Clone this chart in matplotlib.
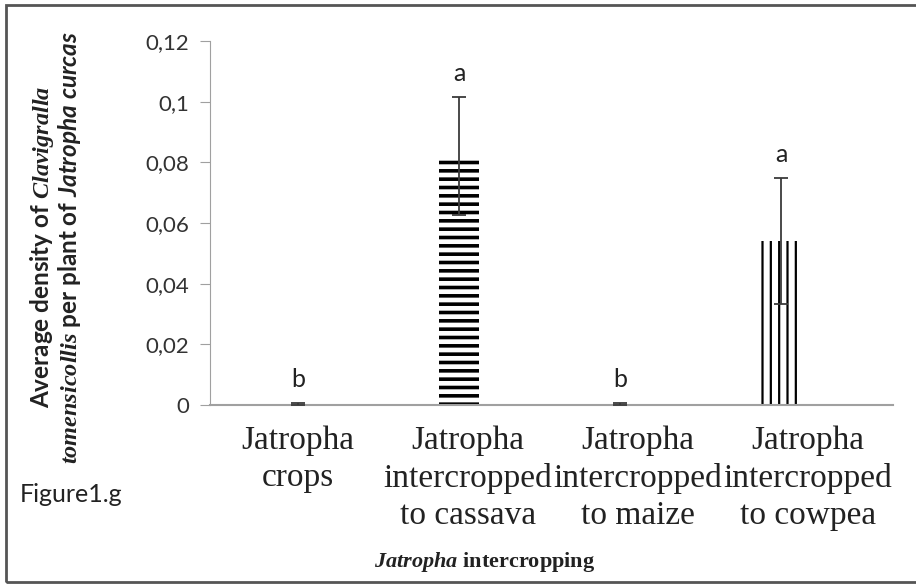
import matplotlib.pyplot as plt
from matplotlib.patches import Rectangle

# Datos
categorias = ['Jatropha\ncrops', 'Jatropha\nintercropped\nto cassava',
              'Jatropha\nintercropped\nto maize', 'Jatropha\nintercropped\nto cowpea']
densidad = [0.0003, 0.082, 0.0003, 0.054]
error = [0.0003, 0.0195, 0.0003, 0.0207]
letras = ['b', 'a', 'b', 'a']
tramas = ['', '--', '', '||']
grosor_trama = [1.0, 2.6, 1.0, 1.6]
y_ticks = [0, 0.02, 0.04, 0.06, 0.08, 0.1, 0.12]
y_etiquetas = ['0', '0,02', '0,04', '0,06', '0,08', '0,1', '0,12']

plt.rcParams['mathtext.fontset'] = 'custom'
plt.rcParams['mathtext.it'] = 'Liberation Serif:italic:bold'
plt.rcParams['mathtext.rm'] = 'Liberation Serif:bold'
plt.rcParams['mathtext.sf'] = 'Lato:italic:bold'

fig = plt.figure(figsize=(9.16, 5.84), dpi=100)
ax = fig.add_axes([210/916, 179/584, 683/916, 364/584])

x = list(range(len(categorias)))
for i in x:
    with plt.rc_context({'hatch.linewidth': grosor_trama[i]}):
        barra = ax.bar(i, densidad[i], width=0.25, color='white', edgecolor='black',
                       linewidth=0, hatch=tramas[i], zorder=2)
        for p in barra:
            if hasattr(p, 'set_hatch_linewidth'):
                p.set_hatch_linewidth(grosor_trama[i])
    ax.errorbar(i, densidad[i], yerr=error[i], fmt='none', ecolor='#3a3a3a',
                elinewidth=1.3, capsize=5, capthick=1.3, zorder=3)
    ax.text(i, densidad[i] + error[i] + 0.004, letras[i], ha='center', va='bottom',
            fontsize=18, family='Lato', color='#222222')

# Las etiquetas del eje X quedan un poco mas separadas que las barras
ax.set_xlim(-0.547, 3.696)
ax.set_ylim(0, 0.12)
ax.set_yticks(y_ticks)
ax.set_yticklabels(y_etiquetas, fontsize=16, family='Lato', color='#333333')
ax.set_xticks([i * 1.056 for i in x])
ax.set_xticklabels(categorias, fontsize=24, family='Liberation Serif',
                   linespacing=1.27, color='#222222')
ax.tick_params(axis='x', length=0, pad=15)
ax.tick_params(axis='y', length=7, color='#a0a0a0', pad=8)
ax.spines[['top', 'right']].set_visible(False)
ax.spines['left'].set_color('#a0a0a0')
ax.spines['bottom'].set_color('#a0a0a0')
ax.spines['bottom'].set_linewidth(1.5)

# Titulos de los ejes
fig.text(56/916, 1 - 247/584,
         'Average density of $\\mathit{Clavigralla}$\n'
         '$\\mathit{tomensicollis}$ per plant of $\\mathsf{Jatropha\\ curcas}$',
         rotation=90, ha='center', va='center', multialignment='center',
         fontsize=17.5, fontweight='bold', family='Lato', linespacing=1.0, color='#222222')
fig.text(485/916, 1 - 562/584, '$\\mathit{Jatropha}$ intercropping', ha='center', va='center',
         fontsize=16, fontweight='bold', family='Liberation Serif', color='#222222')
fig.text(20/916, 1 - 495/584, 'Figure1.g', ha='left', va='center',
         fontsize=18, family='Lato', color='#222222')

# Marco de la figura
fig.patches.append(Rectangle((6/916, 2/584), 1.0, 577/584, transform=fig.transFigure,
                             fill=False, edgecolor='#555555', linewidth=2))

fig.savefig('out.png', dpi=100)
